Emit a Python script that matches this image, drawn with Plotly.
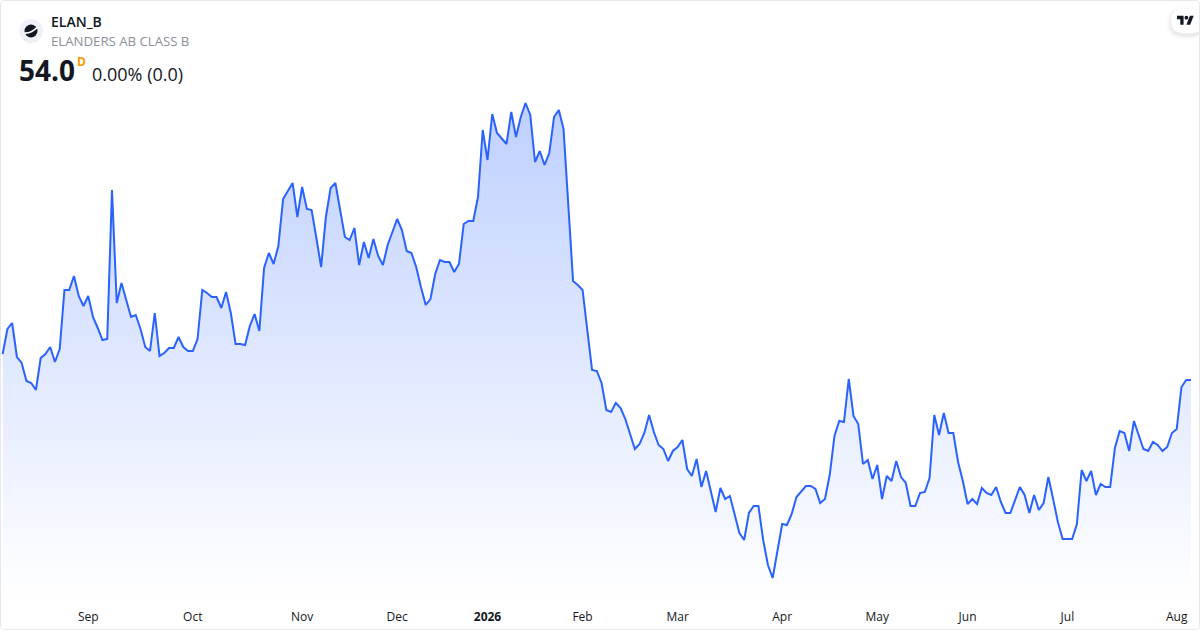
import plotly.graph_objects as go

# closing prices, one per trading day
part_aug_oct = [56.6, 59.1, 59.7, 56.3, 55.7, 53.9, 53.7, 53.0, 56.2, 56.6, 57.3, 55.8, 57.1, 63.0, 63.0, 64.4,
                62.4, 61.4, 62.4, 60.3, 59.2, 58.0, 58.1, 73.0, 61.7, 63.7, 62.0, 60.3, 60.5, 59.1, 57.3, 56.9,
                60.7, 56.4, 56.7, 57.2, 57.2, 58.3, 57.3, 56.9, 56.9, 58.1, 63.0, 62.7, 62.3, 62.3, 61.2, 62.8,
                60.7, 57.6, 57.6, 57.5, 59.4, 60.6, 58.9, 65.2, 66.7, 65.6, 67.4, 72.1, 72.9, 73.7, 70.3]
part_nov_jan = [73.3, 71.1, 71.0, 68.2, 65.3, 70.3, 73.2, 73.7, 70.9, 68.3, 68.0, 69.2, 65.5, 67.8, 66.2, 68.1,
                66.4, 65.5, 67.5, 68.9, 70.1, 69.0, 66.9, 66.7, 65.3, 63.3, 61.5, 62.1, 64.6, 66.0, 65.8, 65.8,
                64.8, 65.6, 69.6, 69.9, 69.9, 72.3, 79.0, 76.0, 80.6, 78.7, 78.2, 77.6, 80.8, 78.3, 80.3, 81.7,
                80.5, 75.8, 76.9, 75.5, 76.7, 80.3, 81.0, 79.1, 71.5, 63.9, 63.5, 63.0, 59.0]
part_feb_may = [55.0, 54.9, 53.7, 51.0, 50.8, 51.7, 51.2, 50.1, 48.6, 47.1, 47.6, 48.7, 50.5, 48.8, 47.5, 47.1,
                45.9, 46.9, 47.3, 48.0, 45.1, 44.4, 46.1, 43.3, 44.9, 42.8, 40.8, 43.2, 42.1, 42.4, 40.5, 38.7,
                38.0, 40.7, 41.4, 41.4, 38.0, 35.5, 34.2, 37.0, 39.6, 39.5, 40.6, 42.3, 42.8, 43.4, 43.4, 43.1,
                41.7, 42.1, 44.5, 48.4, 49.9, 49.8, 54.1, 50.4, 49.6]
part_may_aug = [45.6, 46.0, 44.1, 45.5, 42.1, 44.4, 43.9, 45.9, 44.3, 43.7, 41.4, 41.4, 42.7, 42.8, 44.2, 50.5,
                48.5, 50.7, 48.7, 48.7, 45.8, 43.9, 41.6, 42.1, 41.6, 43.2, 42.7, 42.5, 43.3, 41.8, 40.7, 40.7,
                42.1, 43.3, 42.5, 40.7, 42.5, 41.0, 41.7, 44.3, 42.1, 39.8, 38.1, 38.1, 38.1, 39.6, 45.0, 43.9,
                44.9, 42.5, 43.6, 43.3, 43.3, 47.2, 48.9, 48.7, 46.9, 49.9, 48.6, 47.1, 46.9, 47.8, 47.5, 46.9,
                47.3, 48.7, 49.1, 53.3, 54.0, 54.0]
prices = part_aug_oct + part_nov_jan + part_feb_may + part_may_aug

# bars are evenly spaced like on a TradingView chart, so the axis is the bar number
bars = list(range(len(prices)))
tick_bars = [18, 40, 63, 83, 102, 122, 142, 164, 184, 203, 224, 247]
tick_labels = ['Sep', 'Oct', 'Nov', 'Dec', '<b>2026</b>', 'Feb', 'Mar', 'Apr', 'May', 'Jun', 'Jul', 'Aug']

W, H = 1200, 630
BOTTOM = 30
FONT = 'Open Sans'
TEXT = '#131722'


def fx(x):
    return x / W


def fy(y):
    return 1 - y / (H - BOTTOM)


def path(points, close=True):
    s = 'M' + ' L'.join(f'{fx(x):.5f},{fy(y):.5f}' for x, y in points)
    return s + (' Z' if close else '')


def rounded(x0, y0, x1, y1, r):
    return (f'M{fx(x0 + r):.5f},{fy(y0):.5f} L{fx(x1 - r):.5f},{fy(y0):.5f} '
            f'Q{fx(x1):.5f},{fy(y0):.5f} {fx(x1):.5f},{fy(y0 + r):.5f} '
            f'L{fx(x1):.5f},{fy(y1 - r):.5f} Q{fx(x1):.5f},{fy(y1):.5f} {fx(x1 - r):.5f},{fy(y1):.5f} '
            f'L{fx(x0 + r):.5f},{fy(y1):.5f} Q{fx(x0):.5f},{fy(y1):.5f} {fx(x0):.5f},{fy(y1 - r):.5f} '
            f'L{fx(x0):.5f},{fy(y0 + r):.5f} Q{fx(x0):.5f},{fy(y0):.5f} {fx(x0 + r):.5f},{fy(y0):.5f} Z')


def circle(cx, cy, r, color):
    return dict(type='circle', xref='paper', yref='paper', x0=fx(cx - r), x1=fx(cx + r),
                y0=fy(cy + r), y1=fy(cy - r), fillcolor=color, line_width=0, layer='above')


def blob(d, color, line=0, line_color=None):
    return dict(type='path', xref='paper', yref='paper', path=d, fillcolor=color,
                line=dict(width=line, color=line_color), layer='above')


def label(x, y, text, size, color=TEXT, weight=400):
    # plotly pads annotations by about 2px, take that off here
    return dict(xref='paper', yref='paper', x=fx(x - 2), y=fy(y), text=text, showarrow=False,
                xanchor='left', yanchor='middle', align='left',
                font=dict(family=FONT, size=size, color=color, weight=weight))


fig = go.Figure(go.Scatter(
    x=bars, y=prices, mode='lines',
    line=dict(color='#2962ff', width=2),
    fill='tozeroy',
    fillgradient=dict(type='vertical', start=32, stop=82,
                      colorscale=[[0, 'rgba(41,98,255,0.0)'], [1, 'rgba(41,98,255,0.3)']]),
    hoverinfo='skip',
))

shapes = []

# logo
shapes.append(circle(31, 31, 12, '#eef1f8'))
shapes.append(circle(31, 31, 6.5, '#131722'))
shapes.append(dict(type='path', xref='paper', yref='paper',
                   path=f'M{fx(24.5):.5f},{fy(33):.5f} Q{fx(31.5):.5f},{fy(33.5):.5f} {fx(37.5):.5f},{fy(27):.5f}',
                   line=dict(color='white', width=1.8), layer='above'))

# TradingView badge, soft shadow first
for grow, alpha in [(5, 0.006), (4, 0.01), (3, 0.014), (2, 0.018), (1, 0.022)]:
    shapes.append(blob(rounded(1171 - grow, 9 - grow + 2, 1204, 33 + grow + 2, 12 + grow), f'rgba(0,0,0,{alpha})'))
shapes.append(blob(rounded(1171, 9, 1204, 33, 12), 'white'))
tx = lambda u: 1177 + u * 0.47
ty = lambda v: 15.7 + (v - 4) * 0.5
shapes.append(blob(path([(tx(u), ty(v)) for u, v in [(14, 22), (7, 22), (7, 11), (0, 11), (0, 4), (14, 4)]]), '#131722'))
shapes.append(blob(path([(tx(u), ty(v)) for u, v in [(28, 22), (20, 22), (27.5, 4), (35.5, 4)]]), '#131722'))
shapes.append(circle(tx(20), ty(8), 1.9, '#131722'))

# card border
shapes.append(dict(type='path', xref='paper', yref='paper', path=rounded(0.5, 0.5, 1199.5, 629.5, 4),
                   line=dict(color='#e6e7ea', width=1), layer='above'))

annotations = [
    label(51, 21, 'ELAN_B', 14, weight=600),
    label(51, 41, 'ELANDERS AB CLASS B', 13.2, color='#8c8f99'),
    label(19, 70, '54.0', 28, weight=700),
    label(77, 61, 'D', 12, color='#ff9800', weight=700),
    label(92, 74, '0.00% (0.0)', 18),
]

fig.update_layout(
    width=W, height=H,
    margin=dict(l=0, r=0, t=0, b=BOTTOM),
    paper_bgcolor='white', plot_bgcolor='white',
    showlegend=False,
    shapes=shapes,
    annotations=annotations,
    xaxis=dict(range=[-0.56, 251.9], tickmode='array', tickvals=tick_bars, ticktext=tick_labels,
               showgrid=False, zeroline=False, showline=False, ticks='', ticklabelstandoff=8,
               tickfont=dict(family=FONT, size=12, color=TEXT)),
    yaxis=dict(range=[32, 92], visible=False),
)

fig.write_html('out.html', config=dict(displayModeBar=False),
               post_script="document.body.style.margin='0';document.body.style.overflow='hidden';")
